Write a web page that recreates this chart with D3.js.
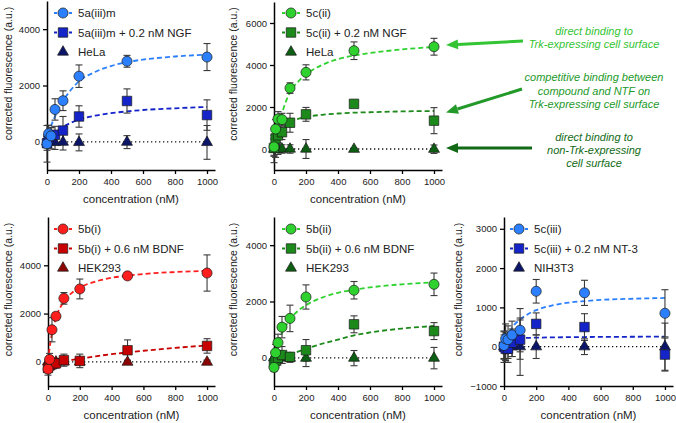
<!DOCTYPE html>
<html>
<head>
<meta charset="utf-8">
<script src="https://cdn.jsdelivr.net/npm/d3@7"></script>
<style>
body { margin: 0; background: #fff; }
svg text { font-family: "Liberation Sans", Arial, sans-serif; }
</style>
</head>
<body>
<svg id="chart" width="676" height="423"></svg>
<script>
'use strict';

// concentrations (nM)
var conc = [0, 10, 25, 50, 100, 200, 500, 1000];
var fitConc = [0, 10, 25, 50, 100, 150, 200, 300, 400, 500, 600, 800, 1000];
var xTicks = [0, 200, 400, 600, 800, 1000];
var baseConc = [0, 1000];
var baseVals = [0, 0];

// 5a(iii)m / HeLa
var a_circ = [-70, 290, 210, 1150, 1460, 2330, 2860, 3010];
var a_circErr = [650, 300, 300, 380, 350, 400, 210, 480];
var a_circFit = [0, 300, 560, 900, 1450, 1850, 2150, 2480, 2690, 2830, 2920, 3030, 3100];
var a_sq = [-50, 100, 200, 250, 400, 900, 1450, 950];
var a_sqErr = [250, 300, 300, 300, 500, 380, 430, 540];
var a_sqFit = [0, 100, 200, 320, 530, 680, 790, 930, 1020, 1080, 1130, 1190, 1240];
var a_tri = [0, 0, 0, -20, -10, -20, -10, -20];
var a_triErr = [200, 200, 250, 250, 280, 300, 230, 600];

// 5c(ii) / HeLa
var b_circ = [100, 950, 1430, 1400, 2900, 3650, 4680, 4870];
var b_circErr = [400, 450, 350, 300, 250, 360, 420, 400];
var b_circFit = [0, 400, 950, 1700, 2700, 3200, 3550, 4000, 4280, 4450, 4570, 4740, 4860];
var b_sq = [50, 500, 650, 800, 1250, 1650, 2150, 1350];
var b_sqErr = [400, 400, 350, 350, 450, 330, 120, 620];
var b_sqFit = [0, 320, 630, 950, 1270, 1430, 1520, 1630, 1690, 1730, 1750, 1790, 1810];
var b_tri = [0, 0, -10, 0, 0, 0, -10, -10];
var b_triErr = [650, 400, 250, 200, 200, 450, 50, 200];

// 5b(i) / HEK293
var c_circ = [-300, 100, 1330, 1890, 2630, 3020, 3560, 3680];
var c_circErr = [250, 250, 500, 150, 240, 410, 100, 750];
var c_circFit = [0, 570, 1180, 1820, 2500, 2860, 3080, 3330, 3480, 3570, 3640, 3720, 3770];
var c_sq = [-250, -150, -100, -60, 70, 40, 480, 660];
var c_sqErr = [200, 200, 200, 200, 250, 280, 430, 300];
var c_sqFit = [-130, -110, -90, -60, 20, 80, 130, 230, 320, 390, 460, 580, 680];
var c_tri = [0, 0, 0, 0, 0, 0, -10, -10];
var c_triErr = [100, 100, 100, 100, 100, 100, 80, 80];

// 5b(ii) / HEK293
var d_circ = [-340, 180, 540, 1090, 1400, 2160, 2400, 2610];
var d_circErr = [150, 300, 300, 380, 470, 430, 310, 400];
var d_circFit = [0, 230, 520, 880, 1360, 1670, 1870, 2140, 2310, 2420, 2500, 2610, 2680];
var d_sq = [-200, -100, 0, 100, 35, 270, 1190, 950];
var d_sqErr = [200, 250, 250, 300, 150, 380, 300, 300];
var d_sqFit = [-50, -30, 0, 40, 110, 220, 320, 500, 650, 800, 900, 1040, 1130];
var d_tri = [0, 0, 0, 0, -10, -10, -10, -10];
var d_triErr = [200, 200, 200, 200, 150, 300, 270, 380];

// 5c(iii) / NIH3T3
var e_circ = [30, 200, 180, 300, 420, 1410, 1370, 850];
var e_circErr = [350, 380, 350, 350, 550, 300, 320, 600];
var e_circFit = [0, 120, 280, 480, 690, 830, 930, 1050, 1120, 1160, 1190, 1220, 1240];
var e_sq = [0, -50, -50, 100, 180, 580, 500, -200];
var e_sqErr = [400, 350, 350, 350, 500, 280, 340, 420];
var e_sqFit = [100, 180, 200, 210, 220, 225, 230, 238, 242, 246, 249, 253, 256];
var e_tri = [0, 0, 0, 0, 0, 0, 0, 0];
var e_triErr = [300, 350, 300, 250, 730, 300, 200, 600];

var blueSet = {circ: '#2c80ff', sq: '#1424c8', tri: '#0c1668'};
var greenSet = {circ: '#2ed12e', sq: '#1b8a1b', tri: '#0c5e12'};
var redSet = {circ: '#ff1e1e', sq: '#c80000', tri: '#8c0505'};

var pairs = function(xs, ys) {
	return xs.map(function(v, i) { return [v, ys[i]]; });
};

var makeSeries = function(names, cols, circ, circErr, circFit, sq, sqErr, sqFit, tri, triErr) {
	return [
		{name: names[2], color: cols.tri, symbol: d3.symbolTriangle, size: 52, vals: tri, err: triErr, fit: null},
		{name: names[1], color: cols.sq, symbol: d3.symbolSquare, size: 90, vals: sq, err: sqErr, fit: sqFit},
		{name: names[0], color: cols.circ, symbol: d3.symbolCircle, size: 80, vals: circ, err: circErr, fit: circFit}
	];
};

var panels = [
	{xr: [47, 215], yr: [170, 1], ydom: [-1000, 5000], yticks: [0, 2000, 4000], ytx: 8, leg: [63, 13],
		series: makeSeries(['5a(iii)m', '5a(iii)m + 0.2 nM NGF', 'HeLa'], blueSet,
			a_circ, a_circErr, a_circFit, a_sq, a_sqErr, a_sqFit, a_tri, a_triErr)},
	{xr: [274, 442], yr: [170, 2], ydom: [-1000, 7000], yticks: [0, 2000, 4000, 6000], ytx: 233, leg: [291, 13],
		series: makeSeries(['5c(ii)', '5c(ii) + 0.2 nM NGF', 'HeLa'], greenSet,
			b_circ, b_circErr, b_circFit, b_sq, b_sqErr, b_sqFit, b_tri, b_triErr)},
	{xr: [48, 215], yr: [386, 217], ydom: [-1000, 6000], yticks: [0, 2000, 4000], ytx: 8, leg: [63, 229],
		series: makeSeries(['5b(i)', '5b(i) + 0.6 nM BDNF', 'HEK293'], redSet,
			c_circ, c_circErr, c_circFit, c_sq, c_sqErr, c_sqFit, c_tri, c_triErr)},
	{xr: [274, 442], yr: [386, 217], ydom: [-1000, 5000], yticks: [0, 2000, 4000], ytx: 233, leg: [291, 229],
		series: makeSeries(['5b(ii)', '5b(ii) + 0.6 nM BDNF', 'HEK293'], greenSet,
			d_circ, d_circErr, d_circFit, d_sq, d_sqErr, d_sqFit, d_tri, d_triErr)},
	{xr: [504, 673], yr: [386, 217], ydom: [-1000, 3300], yticks: [-1000, 0, 1000, 2000, 3000], ytx: 458, leg: [519, 229],
		series: makeSeries(['5c(iii)', '5c(iii) + 0.2 nM NT-3', 'NIH3T3'], blueSet,
			e_circ, e_circErr, e_circFit, e_sq, e_sqErr, e_sqFit, e_tri, e_triErr)}
];

var notes = [
	{lines: ['direct binding to', 'Trk-expressing cell surface'], y: 30.7, color: '#33c433',
		from: [523, 41], to: [446, 45]},
	{lines: ['competitive binding between', 'compound and NTF on', 'Trk-expressing cell surface'], y: 77.3, color: '#23992a',
		from: [522, 89], to: [446, 112.5]},
	{lines: ['direct binding to', 'non-Trk-expressing', 'cell surface'], y: 136.7, color: '#126a16',
		from: [532, 148], to: [446, 148]}
];

var svg = d3.select('#chart');

var drawPanel = function(p) {
	var x = d3.scaleLinear().domain([0, 1050]).range(p.xr);
	var y = d3.scaleLinear().domain(p.ydom).range(p.yr);
	var g = svg.append('g').attr('class', 'panel');

	g.append('g')
		.attr('transform', 'translate(0,' + p.yr[0] + ')')
		.call(d3.axisBottom(x).tickValues(xTicks).tickFormat(d3.format('d'))
			.tickSize(4).tickSizeOuter(0).tickPadding(4));
	g.append('g')
		.attr('transform', 'translate(' + p.xr[0] + ',0)')
		.call(d3.axisLeft(y).tickValues(p.yticks).tickFormat(d3.format('d'))
			.tickSize(4).tickSizeOuter(0).tickPadding(3));
	g.selectAll('.domain').attr('stroke', '#000').attr('stroke-width', 1.5);
	g.selectAll('.tick line').attr('stroke', '#000').attr('stroke-width', 1.3);
	g.selectAll('.tick text').style('font-size', '9.5px').attr('fill', '#222');

	g.append('text')
		.attr('x', (p.xr[0] + p.xr[1]) / 2)
		.attr('y', p.yr[0] + 33)
		.attr('text-anchor', 'middle')
		.style('font-size', '11.5px')
		.attr('fill', '#222')
		.text('concentration (nM)');

	g.append('text')
		.attr('transform', 'translate(' + p.ytx + ',' + ((p.yr[0] + p.yr[1]) / 2 - 12) + ') rotate(-90)')
		.attr('dy', '0.35em')
		.attr('text-anchor', 'middle')
		.style('font-size', '10.5px')
		.attr('fill', '#222')
		.text('corrected fluorescence (a.u.)');

	var line = d3.line()
		.curve(d3.curveMonotoneX)
		.x(function(d) { return x(d[0]); })
		.y(function(d) { return y(d[1]); });

	// dotted baseline (cell line without Trk)
	g.append('path')
		.attr('d', line(pairs(baseConc, baseVals)))
		.attr('fill', 'none')
		.attr('stroke', '#111')
		.attr('stroke-width', 1.3)
		.attr('stroke-dasharray', '1.3,2.7');

	p.series.forEach(function(s) {
		if (!s.fit) return;
		g.append('path')
			.attr('d', line(pairs(fitConc, s.fit)))
			.attr('fill', 'none')
			.attr('stroke', s.color)
			.attr('stroke-width', 1.8)
			.attr('stroke-dasharray', '5,3');
	});

	// error bars
	p.series.forEach(function(s) {
		var eb = g.append('g').attr('stroke', '#3a3a3a').attr('stroke-width', 1.1);
		conc.forEach(function(c, i) {
			var cx = x(c), top = y(s.vals[i] + s.err[i]), bot = y(s.vals[i] - s.err[i]);
			eb.append('line').attr('x1', cx).attr('x2', cx).attr('y1', top).attr('y2', bot);
			eb.append('line').attr('x1', cx - 3.5).attr('x2', cx + 3.5).attr('y1', top).attr('y2', top);
			eb.append('line').attr('x1', cx - 3.5).attr('x2', cx + 3.5).attr('y1', bot).attr('y2', bot);
		});
	});

	// markers
	p.series.forEach(function(s) {
		var sym = d3.symbol().type(s.symbol).size(s.size);
		g.append('g').selectAll('path')
			.data(pairs(conc, s.vals))
		.enter().append('path')
			.attr('d', sym)
			.attr('transform', function(d) { return 'translate(' + x(d[0]) + ',' + y(d[1]) + ')'; })
			.attr('fill', s.color)
			.attr('stroke', '#1a1a1a')
			.attr('stroke-width', 0.7);
	});

	// legend
	var legOrder = [p.series[2], p.series[1], p.series[0]];
	legOrder.forEach(function(s, i) {
		var ly = p.leg[1] + i * 19.5;
		var lg = g.append('g').attr('transform', 'translate(' + p.leg[0] + ',' + ly + ')');
		if (s.fit) {
			lg.append('line')
				.attr('x1', -9).attr('x2', 9)
				.attr('stroke', s.color)
				.attr('stroke-width', 1.8)
				.attr('stroke-dasharray', '3,2');
		}
		lg.append('path')
			.attr('d', d3.symbol().type(s.symbol).size(s.size)())
			.attr('fill', s.color)
			.attr('stroke', '#1a1a1a')
			.attr('stroke-width', 0.7);
		lg.append('text')
			.attr('x', 15)
			.attr('dy', '0.36em')
			.style('font-size', '11.5px')
			.attr('fill', '#222')
			.text(s.name);
	});
};

panels.forEach(drawPanel);

// annotations with arrows
notes.forEach(function(n) {
	var t = svg.append('text')
		.attr('text-anchor', 'middle')
		.style('font-size', '11px')
		.style('font-style', 'italic')
		.attr('fill', n.color);
	n.lines.forEach(function(l, i) {
		t.append('tspan').attr('x', 594).attr('y', n.y + 4 + i * 13.2).text(l);
	});
	var dx = n.to[0] - n.from[0], dy = n.to[1] - n.from[1];
	var len = Math.sqrt(dx * dx + dy * dy);
	var ux = dx / len, uy = dy / len;
	var hl = 12, hw = 5;
	var bx = n.to[0] - ux * hl, by = n.to[1] - uy * hl;
	svg.append('line')
		.attr('x1', n.from[0]).attr('y1', n.from[1])
		.attr('x2', bx).attr('y2', by)
		.attr('stroke', n.color)
		.attr('stroke-width', 3);
	svg.append('path')
		.attr('d', 'M' + n.to[0] + ',' + n.to[1] +
			'L' + (bx - uy * hw) + ',' + (by + ux * hw) +
			'L' + (bx + uy * hw) + ',' + (by - ux * hw) + 'Z')
		.attr('fill', n.color);
});
</script>
</body>
</html>
